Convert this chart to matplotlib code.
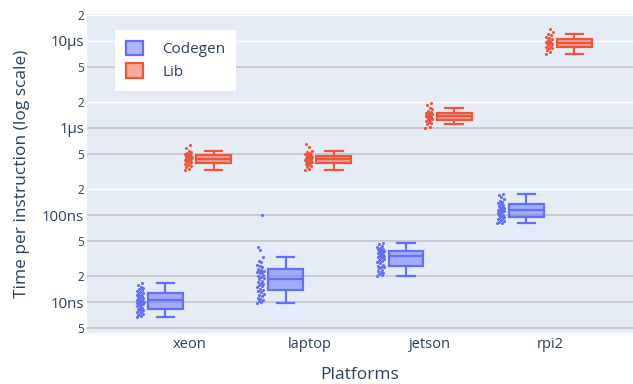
import matplotlib
matplotlib.use("Agg")
import matplotlib.pyplot as plt
from matplotlib.patches import Patch
import numpy as np

plt.rcParams['font.family'] = ['Open Sans', 'DejaVu Sans']

platforms = ["xeon", "laptop", "jetson", "rpi2"]
series = ["Codegen", "Lib"]

# Box statistics per platform, seconds per instruction
codegen_q1 = [8.4e-9, 13.6e-9, 25.7e-9, 95.6e-9]
codegen_med = [10.5e-9, 18.4e-9, 33.8e-9, 113e-9]
codegen_q3 = [12.6e-9, 23.9e-9, 38.6e-9, 133.7e-9]
codegen_lo = [6.8e-9, 9.7e-9, 20.1e-9, 80.3e-9]
codegen_hi = [16.4e-9, 33.2e-9, 47.6e-9, 175.7e-9]

lib_q1 = [399e-9, 395e-9, 1.24e-6, 8.59e-6]
lib_med = [444e-9, 435e-9, 1.36e-6, 9.56e-6]
lib_q3 = [489e-9, 480e-9, 1.50e-6, 10.5e-6]
lib_lo = [326e-9, 325e-9, 1.11e-6, 7.09e-6]
lib_hi = [548e-9, 548e-9, 1.71e-6, 11.9e-6]

# Individual measurements (ns for Codegen, ns/us for Lib as noted)
codegen_xeon_ns = [6.8, 6.9, 7.1, 7.3, 7.5, 7.6, 7.8, 8.0, 8.1, 8.3, 8.4, 8.6, 8.8,
                   9.0, 9.2, 9.4, 9.6, 9.7, 9.8, 9.9, 10.0, 10.0, 10.1, 10.2, 10.3,
                   10.4, 10.5, 10.6, 10.8, 11.0, 11.2, 11.4, 11.6, 11.8, 12.0, 12.2,
                   12.5, 12.7, 13.0, 13.3, 13.6, 14.0, 14.5, 15.0, 15.6, 16.4]
codegen_laptop_ns = [9.7, 10.0, 10.2, 10.5, 10.8, 11.2, 11.6, 12.0, 12.5, 13.0, 13.4,
                     13.8, 14.2, 14.7, 15.1, 15.5, 16.0, 16.5, 17.0, 17.6, 18.2, 18.8,
                     19.4, 20.0, 20.6, 21.3, 22.0, 22.4, 22.7, 23.0, 23.4, 24.2, 25.0,
                     26.0, 27.0, 28.5, 30.0, 33.2, 40.0, 43.0, 100.0]
codegen_jetson_ns = [20.1, 20.5, 20.8, 21.5, 22.2, 23.0, 23.6, 24.3, 25.0, 25.6, 26.3,
                     27.0, 27.8, 28.6, 29.4, 30.2, 31.0, 31.8, 32.6, 33.3, 33.8, 34.0,
                     34.6, 35.2, 35.8, 36.4, 37.0, 37.6, 38.2, 38.8, 39.5, 40.3, 41.2,
                     42.2, 43.3, 44.6, 46.0, 47.6]
codegen_rpi2_ns = [80.3, 82, 84, 86, 88, 90, 92, 94, 95, 97, 99, 101, 103, 105, 107,
                   109, 111, 113, 115, 117, 119, 121, 124, 127, 130, 133, 137, 141,
                   146, 152, 160, 168, 175.7]

lib_xeon_ns = [326, 340, 355, 368, 380, 390, 398, 404, 410, 415, 420, 425, 428, 432,
               436, 440, 444, 448, 452, 456, 460, 465, 470, 476, 482, 489, 496, 505,
               515, 530, 548, 590, 630]
lib_laptop_ns = [325, 338, 352, 366, 378, 388, 395, 401, 407, 412, 417, 422, 427, 431,
                 435, 439, 443, 447, 451, 456, 461, 466, 472, 480, 488, 497, 508, 520,
                 535, 548, 600, 660]
lib_jetson_us = [0.99, 1.03, 1.11, 1.15, 1.18, 1.21, 1.24, 1.26, 1.28, 1.30, 1.32,
                 1.34, 1.36, 1.38, 1.40, 1.42, 1.44, 1.47, 1.50, 1.54, 1.58, 1.64,
                 1.71, 1.83, 1.95]
lib_rpi2_us = [7.09, 7.5, 7.9, 8.2, 8.4, 8.59, 8.8, 9.0, 9.2, 9.35, 9.5, 9.56, 9.7,
               9.85, 10.0, 10.2, 10.5, 10.8, 11.2, 11.6, 11.9, 12.8, 13.6]

codegen_points = [np.array(codegen_xeon_ns) * 1e-9, np.array(codegen_laptop_ns) * 1e-9,
                  np.array(codegen_jetson_ns) * 1e-9, np.array(codegen_rpi2_ns) * 1e-9]
lib_points = [np.array(lib_xeon_ns) * 1e-9, np.array(lib_laptop_ns) * 1e-9,
              np.array(lib_jetson_us) * 1e-6, np.array(lib_rpi2_us) * 1e-6]

colors = {"Codegen": "#636EFA", "Lib": "#EF553B"}
text_color = "#2a3f5f"

fig = plt.figure(figsize=(6.33, 3.84), dpi=100)
ax = fig.add_axes([87 / 633, 1 - 333 / 384, 546 / 633, 319 / 384])
ax.set_facecolor("#E5ECF6")
ax.set_yscale("log")
ax.set_ylim(4.41e-9, 2.04e-5)
ax.set_xlim(-0.852, 3.687)
for s in ax.spines.values():
    s.set_visible(False)

# y ticks: decades labelled with units, 2 and 5 in between
major_ticks = [1e-8, 1e-7, 1e-6, 1e-5]
major_labels = ["10ns", "100ns", "1µs", "10µs"]
minor_ticks = [5e-9, 2e-8, 5e-8, 2e-7, 5e-7, 2e-6, 5e-6, 2e-5]
minor_labels = ["5", "2", "5", "2", "5", "2", "5", "2"]
ax.set_yticks(major_ticks)
ax.set_yticklabels(major_labels)
ax.set_yticks(minor_ticks, minor=True)
ax.set_yticklabels(minor_labels, minor=True)
ax.tick_params(axis="y", which="major", length=0, pad=2, labelsize=10.8, labelcolor=text_color)
ax.tick_params(axis="y", which="minor", length=0, pad=2, labelsize=8.5, labelcolor=text_color)

grid_white = [1e-5, 2e-6, 2e-7, 2e-5]
for t in major_ticks + minor_ticks:
    if t in grid_white:
        ax.axhline(t, color="white", lw=1.0, zorder=0.5)
    else:
        ax.axhline(t, color="#c9cbcf", lw=1.4, zorder=0.5)

x = np.arange(len(platforms))
ax.set_xticks(x)
ax.set_xticklabels(platforms)
ax.tick_params(axis="x", length=0, pad=3, labelsize=10.5, labelcolor=text_color)

box_off = 0.2
pts_off = {"Codegen": -0.41, "Lib": -0.01}
box_w = 0.29
jit_w = 0.06


def stats_for(q1, med, q3, lo, hi):
    return [dict(q1=a, med=b, q3=c, whislo=d, whishi=e, fliers=[])
            for a, b, c, d, e in zip(q1, med, q3, lo, hi)]


def draw(name, stats, points, offset):
    c = colors[name]
    ax.bxp(stats, positions=x + offset, widths=box_w, patch_artist=True,
           showfliers=False, manage_ticks=False,
           boxprops=dict(facecolor=matplotlib.colors.to_rgba(c, 0.5), edgecolor=c, linewidth=1.6),
           medianprops=dict(color=c, linewidth=1.6),
           whiskerprops=dict(color=c, linewidth=1.6),
           capprops=dict(color=c, linewidth=1.6),
           capwidths=box_w / 2)
    for i, vals in enumerate(points):
        n = len(vals)
        jit = (((np.arange(n) * 0.6180339887) % 1.0) - 0.5) * jit_w
        ax.scatter(i + pts_off[name] + jit, vals, s=5, color=c, linewidths=0, zorder=3)


draw("Codegen", stats_for(codegen_q1, codegen_med, codegen_q3, codegen_lo, codegen_hi),
     codegen_points, -box_off)
draw("Lib", stats_for(lib_q1, lib_med, lib_q3, lib_lo, lib_hi), lib_points, box_off)

handles = [Patch(facecolor=matplotlib.colors.to_rgba(colors[n], 0.5), edgecolor=colors[n],
                 linewidth=1.6, label=n) for n in series]
leg = ax.legend(handles=handles, loc="upper left", bbox_to_anchor=(0.0513, 0.95),
                borderaxespad=0, frameon=True, fancybox=False, framealpha=1.0, fontsize=11,
                handlelength=1.1, handleheight=1.1, handletextpad=1.3,
                borderpad=0.7, labelspacing=0.4)
leg.get_frame().set_facecolor("white")
leg.get_frame().set_edgecolor("white")
leg.get_frame().set_linewidth(0)
for t in leg.get_texts():
    t.set_color(text_color)

fig.text(22 / 633, 1 - 173.5 / 384, "Time per instruction (log scale)", rotation=90,
         ha="center", va="center", fontsize=12.5, color=text_color)
fig.text(360 / 633, 1 - 375 / 384, "Platforms", ha="center", va="center",
         fontsize=12.5, color=text_color)

fig.savefig("out.png", dpi=100)
